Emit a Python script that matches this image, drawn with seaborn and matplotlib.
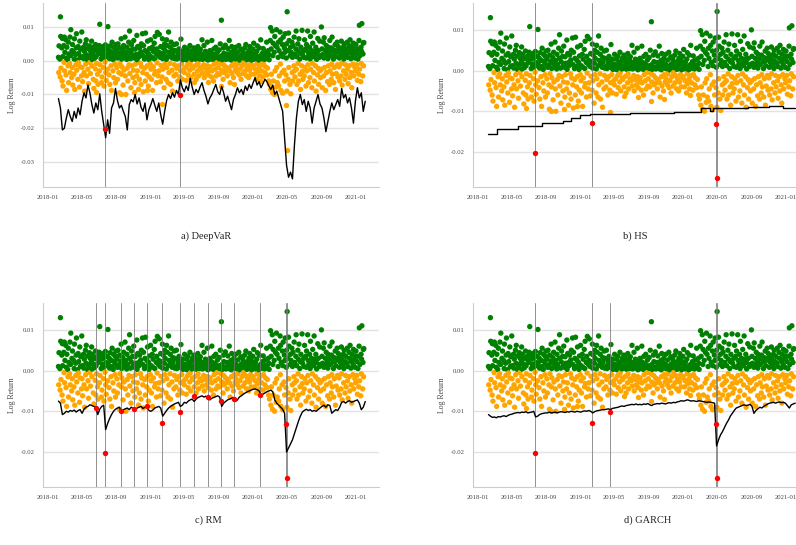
import pandas as pd
import matplotlib
matplotlib.use("Agg")
import matplotlib.pyplot as plt
import matplotlib.dates as mdates
import seaborn as sns

# daily log returns in basis points (1e-4), business days from 2018-02-07, roughly one row per month
returns_bp = [
    10, -35, 44, 5, -48, 130, 72, -22, 38, -60, 66, 12, -75, 45, -5, 70,
    -30, 25, 62, -42, 8, -88, 40, 3, -15, 55, -65, 20, -8, 70, -35, 15, 92, -50, 30, -20, 48, -72,
    25, -40, 5, 65, -85, 18, -12, 38, 80, -28, 2, -55, 42, -6, 22, -78, 58, -18, 10, 34, -45,
    85, -20, 12, -62, 40, 6, -35, 28, -90, 50, -10, 18, 62, -45, 3, 36, -25, 8, -68, 44, 15, -5, 30,
    -38, 22, 58, -15, 4, 40, -55, 16, -82, 30, 7, -24, 48, -60, 12, -8, 35, -40, 26, -70, 20,
    45, -30, 108, -12, 38, 5, -65, 28, -48, 15, 42, -20, 8, -75, 32, -4, 47, -35, 20, -58, 12, 35,
    -25, 101, 18, -42, 30, 6, -70, 44, -15, 25, -88, 10, 55, -30, 3, 40, -50, 22, -10, 35, -65, 15, 48,
    -20, 28, -55, 8, 50, -35, 14, -95, 38, -8, 22, 65, -40, 5, -18, 32, -72, 18, 45, -28,
    10, 70, -45, 25, -100, 4, 40, -22, 15, -60, 55, -12, 30, 88, -38, 6, -80, 22, 48, -15, 35, -50, 12,
    -28, 60, 8, -65, 34, -10, 18, -45, 75, 3, -30, 42, -85, 20, 12, -55, 38, -8, 26, -70, 50, -18,
    80, -35, 15, -92, 45, 5, -22, 30, -60, 82, 10, -40, 25, -15, 58, -75, 20, 3, -48, 36, -10,
    62, -25, 12, -55, 40, -88, 8, 28, -18, 52, -40, 5, 72, -32, 20, -65, 35, -6, 84, -45, 15, 25,
    -30, 78, 10, -62, 42, -14, 22, -48, 65, 6, -25, 38, -80, 18, 50, -10, 30, -55, 4, 62,
    -20, 45, -65, 12, 85, -35, 25, -8, 40, -70, 15, 55, -28, 8, -90, 32, 20, -45, 48, -12, 6,
    30, -40, 10, 50, -22, 5, -60, 25, 18, -15, 35, -48, 8, 22, -30, 64, -10, 14, -55, 28, 3, -25,
    16, -35, 40, 5, -20, 12, -58, 28, 2, -12, 35, -42, 8, 20, -28, 45, -6, 14, -50, 24, 4, -18, 30,
    -22, 10, 38, -40, 6, 22, -14, 30, -55, 12, 3, -30, 42, -8, 18, -45, 26, 5, -20, 34,
    8, -25, 15, 62, -38, 4, 20, -12, 45, -50, 10, 28, -22, 6, -35, 16, 55, -15, 2, -42, 24, 12, -28,
    30, -18, 5, -48, 22, 60, -30, 10, 3, -60, 35, -10, 18, -25, 7, 40, -45, 14, -5, 26, -38, 9,
    -20, 32, 5, -40, 12, 50, -8, 120, -28, 15, 3, -55, 38, -12, 22, -35, 8, 46, -18, 4, -30,
    20, -45, 10, 36, -22, 5, 60, -30, 14, -65, 25, 2, -15, 42, -38, 8, 18, -50, 30, -10, 6, -28, 16,
    40, -20, 4, 12, -35, 26, -8, 45, -42, 10, 2, -25, 34, -55, 16, 6, -15, 28, -38, 20, -5,
    8, 38, -30, 14, -12, 48, -45, 3, 22, -20, 10, -50, 30, 5, -28, 42, -10, 16, -40, 24, 2, -18,
    35, -15, 6, 52, -40, 12, -25, 20, 4, -55, 28, -8, 44, -32, 10, 2, -20, 38, -45, 15, 62, -12, 8,
    -30, 22, 5, -48, 36, -10, 14, 4, -35, 26, -18, 8, 55, -42, 12, -22, 30, -60, 18, 3,
    -70, 60, 98, -85, 35, -40, 88, -95, 15, 52, -60, 25, -100, 72, -30, 45, -78, 92, -20, 40, -65, 10,
    55, -75, 30, -45, 85, -10, 62, -88, 20, -35, 48, -96, 12, 70, -28, 38, -60, 25, 80, -42, 8, 50,
    -90, 145, 30, -55, 82, -20, 60, -70, 15, 40, -98, 25, 55, -35, 10, -60, 45, -15, 70, -30, 20,
    -48, 35, 88, -25, 12, -70, 50, -8, 28, -60, 65, 5, -40, 22, -85, 40, -15, 90, -32, 18, -55, 30,
    10, -45, 62, -20, 35, -75, 8, 48, -30, 88, -12, 25, -65, 15, 40, -50, 5, 72, -25, 30, -80, 18, -8,
    52, -35, 12, 85, -60, 28, -15, 40, -90, 20, 4, -42, 66, -22, 30, -70, 10, 58, -30, 15, -50,
    100, -25, 35, -80, 18, 55, -45, 8, 68, -20, 30, -88, 12, 45, -35, 22, -62, 6, 40, -15, 28, -70,
    60, -30, 15, -55, 38, -10, 70, -40, 22, 5, -65, 32, -20, 48, -85, 12, 25, -38, 55, -12, 30, -48,
    42, -18, 8, -60, 35, 20, -45, 58, -8, 28, -72, 15, 40, -30, 5, 50, -55, 22, -12, 35, -40,
    18, 55, -25, 10, -68, 45, -15, 30, -50, 62, 6, -35, 22, -80, 40, -10, 15, 52, -45, 28, -20, 8, 36,
    -30, 48, -12, 22, -58, 35, 5, -40, 60, 105, -25, 15, -62, 40, -8, 28, 110, -45, 20, 52, -15,
    54,
]

# the largest losses of the period
loss_dates = ["2018-06-22", "2018-07-24", "2018-09-17", "2018-11-02", "2018-12-20",
              "2019-02-11", "2019-04-15", "2019-06-05", "2019-07-25", "2019-09-09",
              "2019-10-25", "2020-01-24", "2020-04-28", "2020-04-29"]
loss_values = [-0.0093, -0.0202, -0.0099, -0.0094, -0.0088, -0.0129, -0.0101,
               -0.0063, -0.0064, -0.0075, -0.0070, -0.0059, -0.0131, -0.0265]

# which of those losses break each model's VaR
breaches = {
    "DeepVaR": ["2018-07-24", "2019-04-15"],
    "HS": ["2018-07-24", "2019-02-11", "2020-04-28", "2020-04-29"],
    "RM": loss_dates,
    "GARCH": ["2018-07-24", "2019-02-11", "2019-04-15", "2020-04-28", "2020-04-29"],
}

# weekly VaR estimates (basis points) from 2018-02-07
deepvar_bp = [
    -112, -140, -205, -200, -170, -145, -165, -180, -150, -170, -140, -160, -120, -95, -110, -72,
    -95, -130, -155, -125, -145, -98, -150, -190, -228, -175, -215, -140, -125, -82, -118, -140,
    -132, -150, -165, -205, -130, -115, -122, -100, -128, -110, -138, -150, -125, -175, -145, -130,
    -112, -132, -150, -125, -160, -188, -150, -118, -100, -112, -95, -108, -88, -100, -57, -80,
    -92, -75, -88, -52, -78, -100, -85, -95, -78, -65, -88, -105, -128, -110, -100, -85,
    -70, -92, -100, -76, -95, -120, -105, -125, -145, -115, -100, -80, -95, -85, -100, -75,
    -88, -70, -82, -65, -50, -72, -62, -80, -68, -55, -62, -75, -85, -72, -100, -90,
    -110, -130, -150, -230, -310, -345, -330, -350, -250, -170, -120, -100, -130, -115, -150, -120,
    -140, -185, -140, -120, -100, -128, -140, -170, -210, -180, -150, -125, -145, -130, -115, -135,
    -82, -110, -100, -125, -110, -140, -185, -120, -80, -110, -95, -150, -120,
]
rm_bp = [
    -75, -80, -108, -105, -100, -102, -98, -100, -97, -102, -98, -96, -105, -95, -90, -88,
    -84, -86, -88, -90, -108, -95, -88, -85, -145, -130, -118, -108, -100, -95, -92, -90,
    -102, -96, -94, -92, -96, -90, -93, -96, -92, -90, -88, -93, -90, -88, -98, -100,
    -97, -92, -90, -88, -92, -112, -105, -98, -92, -88, -85, -82, -80, -78, -88, -85,
    -78, -80, -75, -72, -70, -76, -70, -66, -64, -62, -65, -63, -70, -72, -68, -66,
    -64, -62, -65, -88, -80, -76, -72, -70, -68, -66, -76, -72, -65, -62, -58, -55,
    -52, -50, -48, -46, -45, -47, -50, -60, -58, -55, -52, -50, -48, -52, -72, -80,
    -85, -90, -95, -105, -200, -190, -180, -170, -155, -140, -125, -112, -102, -98, -95, -98,
    -96, -100, -98, -100, -96, -92, -88, -85, -90, -84, -86, -105, -100, -96, -98, -90,
    -78, -76, -80, -76, -74, -78, -76, -74, -72, -80, -96, -90, -76,
]
garch_bp = [
    -108, -112, -115, -114, -116, -113, -114, -112, -111, -113, -110, -108, -107, -105, -104, -103,
    -104, -102, -103, -101, -104, -103, -102, -100, -114, -112, -108, -106, -105, -104, -104, -102,
    -104, -103, -102, -104, -102, -101, -102, -103, -101, -102, -100, -101, -102, -100, -101, -102,
    -100, -99, -100, -98, -100, -104, -101, -99, -98, -97, -96, -96, -95, -94, -96, -93,
    -92, -91, -90, -88, -87, -88, -86, -85, -84, -83, -84, -82, -84, -83, -84, -82,
    -83, -81, -84, -86, -83, -82, -81, -82, -80, -81, -82, -80, -79, -80, -78, -79,
    -77, -76, -74, -75, -74, -72, -73, -75, -74, -75, -76, -74, -75, -76, -77, -78,
    -77, -78, -79, -80, -185, -170, -158, -150, -140, -130, -122, -112, -105, -98, -92, -90,
    -88, -86, -84, -86, -85, -83, -88, -105, -98, -94, -90, -92, -88, -85, -82, -80,
    -79, -78, -80, -78, -77, -79, -78, -80, -86, -92, -84, -82, -80,
]
# historical simulation VaR only moves in steps
hs_dates = ["2018-02-07", "2018-03-10", "2018-05-24", "2018-08-15", "2018-11-01",
            "2018-11-27", "2018-12-30", "2019-02-04", "2019-06-25", "2019-09-10",
            "2019-12-01", "2020-03-04", "2020-04-04", "2020-04-15", "2020-06-13",
            "2020-08-18", "2020-11-03", "2020-12-20", "2021-02-01"]
hs_levels = [-0.0157, -0.0144, -0.0137, -0.0129, -0.0124, -0.0116, -0.0108, -0.0106,
             -0.0103, -0.0105, -0.0102, -0.0091, -0.0100, -0.0093, -0.0091, -0.0089,
             -0.0088, -0.0091, -0.0091]

captions = ["a) DeepVaR", "b) HS", "c) RM", "d) GARCH"]

sns.set_theme(style="whitegrid")
plt.rcParams["font.family"] = ["Liberation Serif", "DejaVu Serif"]
plt.rcParams["axes.unicode_minus"] = False

ret = pd.DataFrame({
    "date": pd.bdate_range("2018-02-07", periods=len(returns_bp)),
    "ret": [r * 1e-4 for r in returns_bp],
})
ret["sign"] = ["pos" if r >= 0 else "neg" for r in ret["ret"]]
losses = pd.DataFrame({"date": pd.to_datetime(loss_dates), "ret": loss_values})

weeks = pd.date_range("2018-02-07", periods=len(deepvar_bp), freq="7D")
var_lines = {
    "DeepVaR": pd.DataFrame({"date": weeks, "var": [v * 1e-4 for v in deepvar_bp]}),
    "RM": pd.DataFrame({"date": weeks[:len(rm_bp)], "var": [v * 1e-4 for v in rm_bp]}),
    "GARCH": pd.DataFrame({"date": weeks[:len(garch_bp)], "var": [v * 1e-4 for v in garch_bp]}),
    "HS": pd.DataFrame({"date": pd.to_datetime(hs_dates), "var": hs_levels}),
}

fig = plt.figure(figsize=(7.96, 5.45), dpi=100)
W, H = 336 / 796, 184 / 545
panels = [
    ("DeepVaR", [43 / 796, 1 - 187 / 545, W, H], (-0.0374, 0.0171), [-0.03, -0.02, -0.01, 0.0, 0.01]),
    ("HS", [473 / 796, 1 - 187 / 545, W, H], (-0.0286, 0.0166), [-0.02, -0.01, 0.0, 0.01]),
    ("RM", [43 / 796, 1 - 487 / 545, W, H], (-0.0286, 0.0166), [-0.02, -0.01, 0.0, 0.01]),
    ("GARCH", [473 / 796, 1 - 487 / 545, W, H], (-0.0286, 0.0166), [-0.02, -0.01, 0.0, 0.01]),
]
caption_pos = [(206, 236), (635, 236), (208, 520), (648, 520)]
dot = 15

for (model, rect, ylim, yticks), cap, (cx, cy) in zip(panels, captions, caption_pos):
    ax = fig.add_axes(rect)
    sns.scatterplot(data=ret, x="date", y="ret", hue="sign",
                    palette={"pos": "green", "neg": "orange"}, legend=False,
                    s=dot, linewidth=0, ax=ax, zorder=2)
    hit = losses["date"].isin(pd.to_datetime(breaches[model]))
    sns.scatterplot(data=losses[~hit], x="date", y="ret", color="orange",
                    s=dot, linewidth=0, ax=ax, zorder=2)
    for d in breaches[model]:
        ax.axvline(pd.Timestamp(d), color="#777777", lw=0.7, alpha=0.8, zorder=3)
    line = var_lines[model]
    sns.lineplot(data=line, x="date", y="var", color="black", lw=1.0, ax=ax,
                 drawstyle="steps-post" if model == "HS" else "default", zorder=4)
    sns.scatterplot(data=losses[hit], x="date", y="ret", color="red",
                    s=dot, linewidth=0, ax=ax, zorder=5)

    ax.set_xlim(pd.Timestamp("2017-12-14"), pd.Timestamp("2021-03-24"))
    ax.set_ylim(*ylim)
    ax.set_yticks(yticks)
    ax.yaxis.set_major_formatter(plt.FormatStrFormatter("%.2f"))
    ax.xaxis.set_major_locator(mdates.MonthLocator(bymonth=[1, 5, 9]))
    ax.xaxis.set_major_formatter(mdates.DateFormatter("%Y-%m"))
    ax.grid(axis="x", visible=False)
    ax.grid(axis="y", color="#e3e3e3", lw=1.0)
    ax.tick_params(axis="both", labelsize=4.8, labelcolor="#444444", length=0, pad=6)
    for side in ["top", "right"]:
        ax.spines[side].set_visible(False)
    for side in ["left", "bottom"]:
        ax.spines[side].set_color("#cccccc")
        ax.spines[side].set_linewidth(0.8)
    ax.set_xlabel("")
    ax.set_ylabel("Log Return", fontsize=5.6, color="#444444", labelpad=3)
    fig.text(cx / 796, 1 - cy / 545, cap, ha="center", va="center", fontsize=7.5, color="#222222")

fig.savefig("out.png", dpi=100)
